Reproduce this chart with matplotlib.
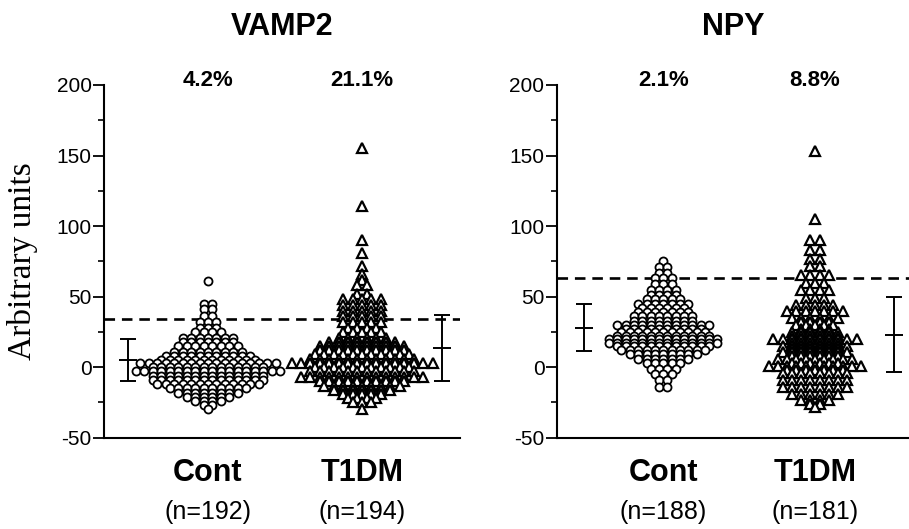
import numpy as np
import matplotlib.pyplot as plt
from matplotlib.ticker import MultipleLocator

plt.rcParams['font.family'] = ['Liberation Sans', 'DejaVu Sans']
plt.rcParams['axes.unicode_minus'] = False

groups = ['Cont', 'T1DM']

vamp2_n = [192, 194]
vamp2_pct = ['4.2%', '21.1%']
vamp2_cutoff = 34
vamp2_mean = [5, 13.5]
vamp2_sd = [15, 23.5]

npy_n = [188, 181]
npy_pct = ['2.1%', '8.8%']
npy_cutoff = 63
npy_mean = [28, 23]
npy_sd = [16.5, 26.5]

# swarm rows: value of the row and how many points sit on it
vamp2_cont_y = [61, 45, 41, 36, 32, 28, 25, 21, 18, 15, 11, 8, 5, 3, 0,
                -3, -6, -9, -12, -15, -18, -21, -24, -27, -30]
vamp2_cont_c = [1, 2, 2, 2, 3, 3, 4, 7, 7, 8, 9, 11, 12, 17, 14,
                18, 14, 14, 13, 10, 8, 6, 4, 2, 1]

vamp2_t1dm_y = [155, 114, 90, 81, 72, 66, 62, 58, 52, 48, 44, 40, 36, 32,
                28, 25, 21, 18, 15, 12, 9, 6, 3, 0, -3, -7, -10, -13, -16,
                -19, -22, -25, -30]
vamp2_t1dm_c = [1, 1, 1, 1, 1, 1, 1, 2, 2, 5, 5, 5, 5, 5,
                4, 5, 6, 8, 10, 10, 11, 12, 16, 11, 12, 14, 10, 9, 7,
                5, 4, 3, 1]

npy_cont_y = [75, 71, 67, 63, 59, 55, 51, 48, 45, 42, 39, 36, 33, 30, 27,
              25, 22, 20, 17, 15, 12, 9, 6, 3, -1, -5, -9, -14]
npy_cont_c = [1, 2, 2, 3, 3, 4, 4, 5, 7, 6, 7, 8, 8, 12, 10,
              11, 12, 14, 14, 12, 11, 9, 7, 5, 4, 3, 2, 2]

npy_t1dm_y = [153, 105, 90, 83, 77, 72, 65, 60, 55, 49, 44, 40, 35, 32, 30,
              27, 25, 22, 20, 17, 15, 13, 11, 8, 6, 3, 1, -2, -4, -9, -14,
              -19, -23, -26, -28]
npy_t1dm_c = [1, 1, 2, 2, 2, 2, 4, 3, 4, 3, 5, 7, 6, 4, 5,
              4, 6, 6, 10, 6, 8, 6, 8, 6, 9, 6, 11, 7, 8, 8, 8,
              6, 4, 2, 1]


def draw_swarm(ax, xc, levels, counts, marker, step, size, ew):
    for y, c in zip(levels, counts):
        xs = xc + (np.arange(c) - (c - 1) / 2.0) * step
        ax.plot(xs, [y] * c, linestyle='none', marker=marker, markersize=size,
                markerfacecolor='white', markeredgecolor='black',
                markeredgewidth=ew, zorder=3)


def setup_panel(ax, title, xlim, ns, pcts, cutoff, means, sds, swarms):
    ax.set_xlim(*xlim)
    ax.set_ylim(-50, 200)
    ax.spines['top'].set_visible(False)
    ax.spines['right'].set_visible(False)
    ax.spines['left'].set_linewidth(1.5)
    ax.spines['bottom'].set_linewidth(1.5)
    ax.set_xticks([])
    ax.yaxis.set_major_locator(MultipleLocator(50))
    ax.yaxis.set_minor_locator(MultipleLocator(25))
    ax.tick_params(axis='y', which='major', length=8, width=1.3,
                   labelsize=15, pad=1)
    ax.tick_params(axis='y', which='minor', length=4, width=1.2)

    ax.axhline(cutoff, color='black', lw=1.9, ls=(0, (4, 2.6)), zorder=2)

    (cy, cc), (ty, tc) = swarms
    draw_swarm(ax, 1, cy, cc, 'o', 0.055, 5.8, 1.3)
    draw_swarm(ax, 2, ty, tc, '^', 0.061, 7.0, 1.6)

    for i, x in enumerate([1 - 0.52, 2 + 0.52]):
        ax.errorbar(x, means[i], yerr=sds[i], color='black', lw=1.4,
                    capsize=6, capthick=1.4, zorder=4)
        ax.plot(x, means[i], marker='_', markersize=13, mew=1.4,
                color='black', zorder=4)

    trans = ax.get_xaxis_transform()
    for i, g in enumerate(groups):
        ax.text(i + 1, 203, pcts[i], ha='center', va='center', fontsize=16,
                fontweight='bold', clip_on=False)
        ax.text(i + 1, -0.10, g, transform=trans, ha='center', va='center',
                fontsize=22, fontweight='bold')
        ax.text(i + 1, -0.212, '(n=%d)' % ns[i], transform=trans,
                ha='center', va='center', fontsize=18)

    ax.text(0.5, 1.165, title, transform=ax.transAxes, ha='center',
            va='center', fontsize=22, fontweight='bold')


fig = plt.figure(figsize=(9.09, 5.29), dpi=100)
ax1 = fig.add_axes([104 / 909, 1 - 437.7 / 529, 356 / 909, 352.7 / 529])
ax2 = fig.add_axes([557 / 909, 1 - 437.7 / 529, 352 / 909, 352.7 / 529])

setup_panel(ax1, 'VAMP2', (0.325, 2.636), vamp2_n, vamp2_pct, vamp2_cutoff,
            vamp2_mean, vamp2_sd,
            [(vamp2_cont_y, vamp2_cont_c), (vamp2_t1dm_y, vamp2_t1dm_c)])
setup_panel(ax2, 'NPY', (0.30, 2.62), npy_n, npy_pct, npy_cutoff,
            npy_mean, npy_sd,
            [(npy_cont_y, npy_cont_c), (npy_t1dm_y, npy_t1dm_c)])

fig.text(23 / 909, 1 - 261 / 529, 'Arbitrary units', rotation=90,
         ha='center', va='center', fontsize=24, family='Liberation Serif')

fig.savefig('out.png', dpi=100)
